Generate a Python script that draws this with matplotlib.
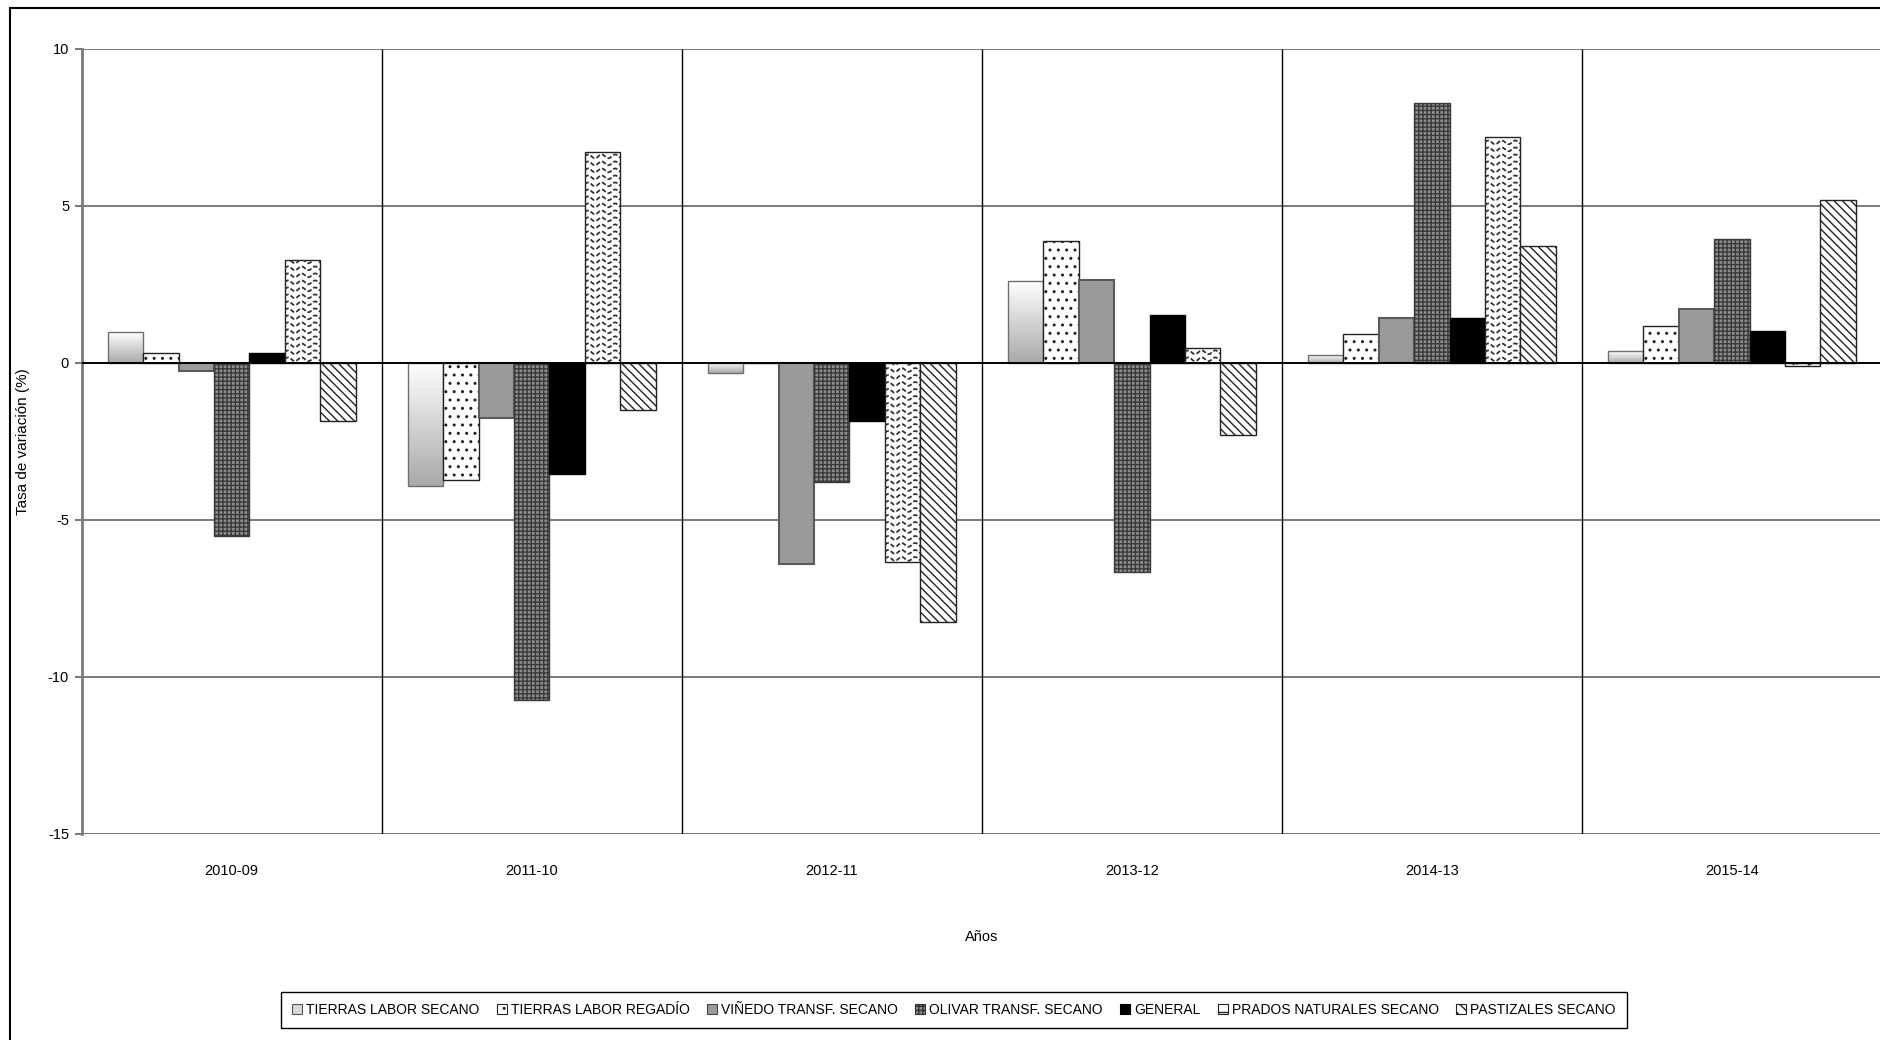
import numpy as np
import matplotlib
matplotlib.use('Agg')
import matplotlib.pyplot as plt
from matplotlib.patches import Rectangle, Patch
from matplotlib.colors import LinearSegmentedColormap

# ---------------- data ----------------
categories = ['2010-09', '2011-10', '2012-11', '2013-12', '2014-13', '2015-14']
series_names = ['TIERRAS LABOR SECANO', 'TIERRAS LABOR REGADÍO', 'VIÑEDO TRANSF. SECANO',
                'OLIVAR TRANSF. SECANO', 'GENERAL', 'PRADOS NATURALES SECANO',
                'PASTIZALES SECANO']
tierras_labor_secano = [0.97, -3.94, -0.32, 2.61, 0.24, 0.37]
tierras_labor_regadio = [0.32, -3.73, 0.00, 3.89, 0.91, 1.17]
vinedo_transf_secano = [-0.27, -1.77, -6.40, 2.64, 1.43, 1.73]
olivar_transf_secano = [-5.53, -10.75, -3.80, -6.66, 8.29, 3.93]
general = [0.32, -3.55, -1.87, 1.51, 1.43, 1.00]
prados_naturales_secano = [3.29, 6.71, -6.36, 0.48, 7.20, -0.11]
pastizales_secano = [-1.87, -1.49, -8.27, -2.30, 3.72, 5.20]
y_ticks = [10, 5, 0, -5, -10, -15]
y_label = 'Tasa de variación (%)'
x_label = 'Años'

series = [tierras_labor_secano, tierras_labor_regadio, vinedo_transf_secano,
          olivar_transf_secano, general, prados_naturales_secano, pastizales_secano]

# ---------------- style ----------------
FONT = ['Liberation Sans Narrow', 'Liberation Sans', 'DejaVu Sans']
plt.rcParams['font.family'] = FONT
plt.rcParams['font.size'] = 10.5
plt.rcParams['hatch.linewidth'] = 1.0
plt.rcParams['axes.unicode_minus'] = False

W, H = 1881, 1040
fig = plt.figure(figsize=(W / 100, H / 100), dpi=100)
fig.patch.set_facecolor('white')

# outer border of chart area
fig.patches.append(Rectangle((10 / W, -0.05), 1.2, 1 - 8 / H + 0.05,
                             transform=fig.transFigure, fill=False,
                             ec='black', lw=1.5, zorder=0))

ax = fig.add_axes([81.6 / W, 1 - 833.5 / H, 1 - 81.6 / W + 0.0005, (833.5 - 49) / H])

n_series = len(series)
bw = 0.118
centers = np.arange(len(categories)) + 0.5

styles = [
    dict(facecolor='none', edgecolor='#6f6f6f', lw=1.0),                 # gradient
    dict(facecolor='white', edgecolor='#222222', lw=1.0, hatch='..'),   # dots
    dict(facecolor='#9a9a9a', edgecolor='#5a5a5a', lw=1.5),              # solid gray
    dict(facecolor='#8c8c8c', edgecolor='#3a3a3a', lw=1.0, hatch='++++'),  # stipple
    dict(facecolor='black', edgecolor='black', lw=1.0),                  # black
    dict(facecolor='white', edgecolor='#222222', lw=1.0),                # waves
    dict(facecolor='white', edgecolor='#222222', lw=1.0, hatch='\\\\\\\\'),  # diagonal
]

containers = []
for j, (vals, st) in enumerate(zip(series, styles)):
    xs = centers + (j - (n_series - 1) / 2) * bw
    c = ax.bar(xs, vals, bw, zorder=3, **st)
    containers.append(c)

# gradient fill for first series
gcmap = LinearSegmentedColormap.from_list('g', ['#ffffff', '#a9a9a9'])
grad = np.linspace(0, 1, 256).reshape(-1, 1)
for rect in containers[0].patches:
    x0 = rect.get_x(); w = rect.get_width()
    y0 = rect.get_y(); h = rect.get_height()
    yb, yt = min(y0, y0 + h), max(y0, y0 + h)
    if yt - yb <= 0:
        continue
    im = ax.imshow(grad, extent=(x0, x0 + w, yb, yt), origin='upper', cmap=gcmap,
                   aspect='auto', interpolation='bilinear', zorder=2.9)
    im.set_clip_path(rect)

# wavy pattern for prados
dy = 0.223
amp = 0.06
period = 0.045
for rect in containers[5].patches:
    x0 = rect.get_x(); w = rect.get_width()
    y0 = rect.get_y(); h = rect.get_height()
    yb, yt = min(y0, y0 + h), max(y0, y0 + h)
    xx = np.linspace(x0, x0 + w, 80)
    yrow = yb + dy * 0.5
    while yrow < yt + dy:
        yy = yrow + amp * np.sin(2 * np.pi * (xx - x0) / period)
        ln, = ax.plot(xx, yy, color='#333333', lw=1.3, ls=(0, (2.5, 1.2)), zorder=3.1)
        ln.set_clip_path(rect)
        yrow += dy

ax.set_xlim(0, len(categories))
ax.set_ylim(-15, 10)

# grid / separators
ax.set_yticks(y_ticks)
for yt in y_ticks:
    if yt != 0:
        ax.axhline(yt, color='#7a7a7a', lw=1.4, zorder=1)
ax.axhline(0, color='black', lw=1.4, zorder=3.5)
ax.vlines(np.arange(1, len(categories) + 1), -15, 10, colors='black', lw=1.0, zorder=1)

for s in ['top', 'right', 'bottom']:
    ax.spines[s].set_visible(False)
ax.spines['left'].set_color('#7a7a7a')
ax.spines['left'].set_linewidth(2.0)

ax.set_xticks(centers)
ax.set_xticklabels(categories)
ax.tick_params(axis='x', length=0, pad=22, labelsize=10.5)
ax.tick_params(axis='y', length=5, width=1.5, color='#7a7a7a', pad=4, labelsize=10.5,
               direction='out')

ax.set_xlabel(x_label, fontsize=10.5)
ax.xaxis.label.set_va('center')
ax.xaxis.set_label_coords(0.5, (1040 - 937 - 206.5) / 784.5)
ax.set_ylabel(y_label, fontsize=11)
ax.yaxis.label.set_va('center')
ax.yaxis.set_label_coords((23 - 81.6) / 1799, 0.5)

# legend with proxy handles
handles = [
    Patch(facecolor='#d8d8d8', edgecolor='#555555', lw=0.8),
    Patch(facecolor='white', edgecolor='#222222', lw=0.8, hatch='..'),
    Patch(facecolor='#9a9a9a', edgecolor='#444444', lw=0.8),
    Patch(facecolor='#8c8c8c', edgecolor='#333333', lw=0.8, hatch='++++'),
    Patch(facecolor='black', edgecolor='black', lw=0.8),
    Patch(facecolor='white', edgecolor='#222222', lw=0.8, hatch='--'),
    Patch(facecolor='white', edgecolor='#222222', lw=0.8, hatch='\\\\\\'),
]
leg = fig.legend(handles, series_names, loc='center', ncol=7,
                 bbox_to_anchor=(954 / W, 1 - 1010 / H), fontsize=10,
                 frameon=True, fancybox=False, edgecolor='black', framealpha=1,
                 handlelength=0.7, handleheight=0.7, handletextpad=0.3,
                 columnspacing=1.25, borderpad=0.8)
leg.get_frame().set_linewidth(1.0)

fig.savefig('out.png', dpi=100, facecolor='white')
